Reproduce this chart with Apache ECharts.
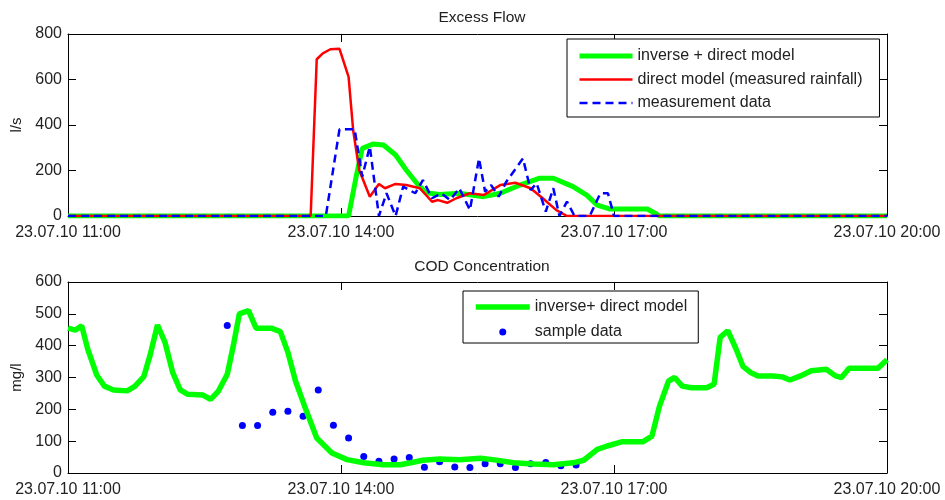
<!DOCTYPE html>
<html>
<head>
<meta charset="utf-8">
<script src="https://cdn.jsdelivr.net/npm/echarts@6/dist/echarts.min.js"></script>
<style>html,body{margin:0;padding:0;background:#fff}#c{width:945px;height:500px}</style>
</head>
<body>
<div id="c"></div>
<script>
// x values are minutes after 23.07.10 11:00
var tickLabels = ["23.07.10 11:00", "23.07.10 14:00", "23.07.10 17:00", "23.07.10 20:00"];

// Excess Flow (l/s)
var greenTopT = [0,185,190,194,201,208,216,223,230,236,245,258,274,285,298,311,320,333,342,349,357,382,388,390,540];
var greenTopV = [0,0,173,297,316,312,268,202,144,102,95,100,85,100,136,166,166,129,92,48,31,31,9,0,0];
var redT = [0,160,164,168,173,179,185,188,192,199,205,209,216,223,232,240,244,250,256,265,274,285,295,305,313,322,329,540];
var redV = [0,0,689,715,733,735,612,378,202,85,141,122,141,136,122,63,70,58,78,100,92,136,146,122,78,26,0,0];
var blueT = [0,170,179,189,194,199,205,210,216,221,229,234,240,246,252,258,265,271,275,279,284,289,300,305,309,315,320,324,329,334,344,351,356,360,540];
var blueV = [0,0,381,381,173,305,0,100,0,129,100,158,78,100,70,122,26,253,107,136,85,151,253,114,144,19,122,0,63,0,0,100,100,0,0];

// COD Concentration (mg/l)
var codT = [0,5,9,13,19,24,30,39,44,50,54,59,64,69,74,79,89,94,99,105,109,113,119,124,134,140,145,150,156,164,174,184,195,208,219,226,234,245,258,272,280,294,307,320,333,340,349,355,365,379,385,390,396,400,405,411,421,426,430,435,440,445,450,455,465,471,476,483,490,500,506,510,515,534,540];
var codV = [455,449,463,389,307,273,261,258,272,303,368,465,410,316,261,247,245,231,256,310,400,500,510,455,455,444,379,289,210,110,63,42,32,26,26,32,40,44,42,46,42,32,28,26,32,40,74,84,98,98,116,210,289,300,273,268,268,279,426,447,395,335,316,305,305,302,292,305,321,326,305,300,329,329,356];
var sampT = [105,115,125,135,145,155,165,175,185,195,205,215,225,235,245,255,265,275,285,295,305,315,325,335];
var sampV = [463,149,149,191,194,178,261,150,110,52,37,44,49,18,35,19,17,29,29,17,29,33,23,25];

function zip(t, v) { return t.map(function (x, i) { return [x, v[i]]; }); }

var FONT = 'Liberation Sans';
var TXT = '#222';
var FS = 16;

function xAx(grid, pos, showLabel) {
  return {
    type: 'value', gridIndex: grid, position: pos, min: 0, max: 540, interval: 180,
    axisLine: { show: true, onZero: false, lineStyle: { color: '#000', width: 1 } },
    axisTick: { show: true, inside: true, length: 8, lineStyle: { color: '#000' } },
    splitLine: { show: false },
    axisLabel: {
      show: showLabel, margin: 9, fontSize: FS, fontFamily: FONT, color: TXT,
      formatter: function (v) { return tickLabels[Math.round(v / 180)]; }
    }
  };
}
function yAx(grid, pos, max, interval, showLabel, name) {
  return {
    type: 'value', gridIndex: grid, position: pos, min: 0, max: max, interval: interval,
    name: name || '', nameLocation: 'middle', nameGap: 43,
    nameTextStyle: { fontSize: 15, fontFamily: FONT, color: TXT },
    axisLine: { show: true, onZero: false, lineStyle: { color: '#000', width: 1 } },
    axisTick: { show: true, inside: true, length: 8, lineStyle: { color: '#000' } },
    splitLine: { show: false },
    axisLabel: { show: showLabel, margin: 6, fontSize: FS, fontFamily: FONT, color: TXT }
  };
}

var chart = echarts.init(document.getElementById('c'), null, { renderer: 'canvas' });
chart.setOption({
  animation: false,
  backgroundColor: '#fff',
  title: [
    { text: 'Excess Flow', left: 477, textAlign: 'center', top: 5,
      textStyle: { fontSize: 15.5, fontWeight: 'normal', fontFamily: FONT, color: TXT } },
    { text: 'COD Concentration', left: 477, textAlign: 'center', top: 254,
      textStyle: { fontSize: 15.5, fontWeight: 'normal', fontFamily: FONT, color: TXT } }
  ],
  grid: [
    { left: 68, right: 58, top: 34, height: 182 },
    { left: 68, right: 58, top: 282, height: 191 }
  ],
  xAxis: [xAx(0, 'bottom', true), xAx(0, 'top', false), xAx(1, 'bottom', true), xAx(1, 'top', false)],
  yAxis: [yAx(0, 'left', 800, 200, true, 'l/s'), yAx(0, 'right', 800, 200, false),
          yAx(1, 'left', 600, 100, true, 'mg/l'), yAx(1, 'right', 600, 100, false)],
  legend: [
    { data: [
        { name: 'inverse + direct model', itemStyle: { opacity: 0 }, lineStyle: { width: 5 } },
        { name: 'direct model (measured rainfall)', itemStyle: { opacity: 0 }, lineStyle: { width: 2.5 } },
        { name: 'measurement data', itemStyle: { opacity: 0 }, lineStyle: { width: 2.5 } }
      ],
      orient: 'vertical', left: 567, top: 39, padding: [9, 17, 6, 10], itemGap: 7.5,
      itemWidth: 53, itemHeight: 14, borderColor: '#000', borderWidth: 1, borderRadius: 0,
      backgroundColor: '#fff',
      textStyle: { fontSize: FS, fontFamily: FONT, color: TXT } },
    { data: [
        { name: 'inverse+ direct model', itemStyle: { opacity: 0 }, lineStyle: { width: 5.5 } },
        { name: 'sample data', icon: 'circle', itemStyle: { opacity: 1 } }
      ],
      orient: 'vertical', left: 463, top: 291, padding: [8, 11, 3, 10], itemGap: 9,
      itemWidth: 54, itemHeight: 7, borderColor: '#000', borderWidth: 1, borderRadius: 0,
      backgroundColor: '#fff',
      textStyle: { fontSize: FS, fontFamily: FONT, color: TXT } }
  ],
  series: [
    { name: 'inverse + direct model', type: 'line', xAxisIndex: 0, yAxisIndex: 0, symbol: 'none',
      data: zip(greenTopT, greenTopV), lineStyle: { color: '#00ff00', width: 5 }, itemStyle: { color: '#00ff00' } },
    { name: 'direct model (measured rainfall)', type: 'line', xAxisIndex: 0, yAxisIndex: 0, symbol: 'none',
      data: zip(redT, redV), lineStyle: { color: '#ff0000', width: 2.5 }, itemStyle: { color: '#ff0000' } },
    { name: 'measurement data', type: 'line', xAxisIndex: 0, yAxisIndex: 0, symbol: 'none',
      data: zip(blueT, blueV), lineStyle: { color: '#0000ff', width: 2.5, type: [8, 5] }, itemStyle: { color: '#0000ff' } },
    { name: 'inverse+ direct model', type: 'line', xAxisIndex: 2, yAxisIndex: 2, symbol: 'none',
      data: zip(codT, codV), lineStyle: { color: '#00ff00', width: 5.5 }, itemStyle: { color: '#00ff00' } },
    { name: 'sample data', type: 'scatter', xAxisIndex: 2, yAxisIndex: 2, symbol: 'circle', symbolSize: 7,
      data: zip(sampT, sampV), itemStyle: { color: '#0000ff', opacity: 1 } }
  ]
});
</script>
</body>
</html>
